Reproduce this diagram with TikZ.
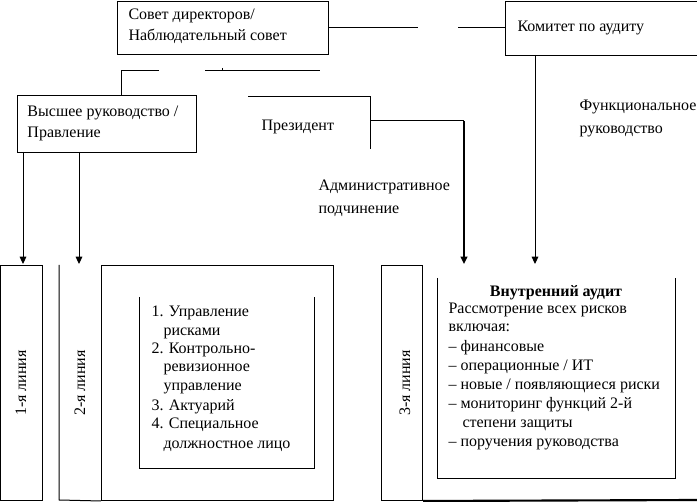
\documentclass[tikz,border=0pt]{standalone}
\usepackage{fontspec}
\setmainfont{Liberation Serif}
\usetikzlibrary{arrows.meta}
\begin{document}
\begin{tikzpicture}[x=0.75pt,y=-0.75pt,line width=0.75pt,
  txt/.style={anchor=base west,inner sep=0pt,font=\fontsize{12}{14}\selectfont},
  ctxt/.style={anchor=base,inner sep=0pt,font=\fontsize{12}{14}\selectfont\bfseries},
  vlab/.style={rotate=90,inner sep=0pt,font=\fontsize{12}{14}\selectfont},
  box/.style={draw,anchor=north west,inner sep=0pt},
  arr/.style={-{Triangle[width=5pt,length=5.5pt]}},
  thick line/.style={line width=1.6pt}]
\useasboundingbox (0,0) rectangle (697,502);
\clip (0,0) rectangle (697,502);

% top boxes
\node[box,minimum width=158.25pt,minimum height=39.75pt] (sovet) at (117,1) {};
\node[txt] (sovet1) at (128,20) {Совет директоров/};
\node[txt] (sovet2) at (128,41) {Наблюдательный совет};

\node[box,minimum width=165pt,minimum height=40.5pt] (komitet) at (505,1) {};
\node[txt] (komitett) at (517,32) {Комитет по аудиту};

\node[box,minimum width=134.25pt,minimum height=42.75pt] (vysshee) at (17,95) {};
\node[txt] (vysshee1) at (27,117) {Высшее руководство /};
\node[txt] (vysshee2) at (27,138) {Правление};

\node[txt] (prezident) at (261,131) {Президент};
\node[txt] (adm1) at (318,191) {Административное};
\node[txt] (adm2) at (318,214) {подчинение};
\node[txt] (fun1) at (579,111) {Функциональное};
\node[txt] (fun2) at (579,134) {руководство};

% coordinates
\coordinate (s1) at (418,28);
\coordinate (s2) at (458,28);
\coordinate (k1) at (505,28);
\coordinate (h1) at (121,71);
\coordinate (h2) at (159,71);
\coordinate (h3) at (205,71);
\coordinate (h4) at (320,71);
\coordinate (t1) at (222,68);
\coordinate (t2) at (222,71);
\coordinate (p1) at (248,97);
\coordinate (p2) at (370,97);
\coordinate (p3) at (370,149);
\coordinate (p4) at (370,121);
\coordinate (p5) at (464,121);
\coordinate (p6) at (464,264);
\coordinate (k2) at (535,55);
\coordinate (k3) at (535,264);
\coordinate (v1) at (23,152);
\coordinate (v2) at (23,264);
\coordinate (v3) at (79,152);
\coordinate (v4) at (79,264);

% connectors
\draw (sovet.east |- s1) -- (s1);
\draw (s2) -- (k1);
\draw (h2) -- (h1) -- (h1 |- vysshee.north);
\draw (h3) -- (h4);
\draw (t1) -- (t2);
\draw (p1) -- (p2) -- (p3);
\draw (p4) -- (p5);
\draw[thick line,arr] (p5) -- (p6);
\draw[arr] (k2) -- (k3);
\draw[arr] (v1) -- (v2);
\draw[arr] (v3) -- (v4);

% lines boxes
\node[box,minimum width=31.5pt,minimum height=176.25pt] (line1) at (0,265) {};
\node[vlab] (line1t) at (21,383) {1-я линия};
\coordinate (b2a) at (59,265);
\coordinate (b2b) at (59,500);
\node[box,minimum width=174pt,minimum height=176.25pt] (big2) at (101,265) {};
\draw (b2a) -- (b2b) -- (big2.south west);
\node[vlab] (line2t) at (80,383) {2-я линия};
\coordinate (i1) at (139,297);
\coordinate (i2) at (139,469);
\coordinate (i3) at (314,469);
\coordinate (i4) at (314,297);
\draw (i1) -- (i2) -- (i3) -- (i4);
\node[txt] (l1) at (151,317) {1. Управление};
\node[txt] (l2) at (163,336) {рисками};
\node[txt] (l3) at (151,354) {2. Контрольно-};
\node[txt] (l4) at (163,372) {ревизионное};
\node[txt] (l5) at (163,391) {управление};
\node[txt] (l6) at (151,411) {3. Актуарий};
\node[txt] (l7) at (151,429) {4. Специальное};
\node[txt] (l8) at (163,449) {должностное лицо};

\node[box,minimum width=30.75pt,minimum height=176.25pt] (line3) at (381,265) {};
\node[vlab] (line3t) at (405,383) {3-я линия};
\coordinate (b3) at (697,500);
\draw[thick line] (line3.south east) -- (b3);
\coordinate (j1) at (437,278);
\coordinate (j2) at (437,479);
\coordinate (j3) at (675,479);
\coordinate (j4) at (675,278);
\draw (j1) -- (j2) -- (j3) -- (j4);
\node[ctxt] (r0) at (556,297) {Внутренний аудит};
\node[txt] (r1) at (448,314) {Рассмотрение всех рисков};
\node[txt] (r2) at (448,332) {включая:};
\node[txt] (r3) at (448,352) {– финансовые};
\node[txt] (r4) at (448,371) {– операционные / ИТ};
\node[txt] (r5) at (448,390) {– новые / появляющиеся риски};
\node[txt] (r6) at (448,409) {– мониторинг функций 2-й};
\node[txt] (r7) at (462,428) {степени защиты};
\node[txt] (r8) at (448,447) {– поручения руководства};
\end{tikzpicture}
\end{document}
